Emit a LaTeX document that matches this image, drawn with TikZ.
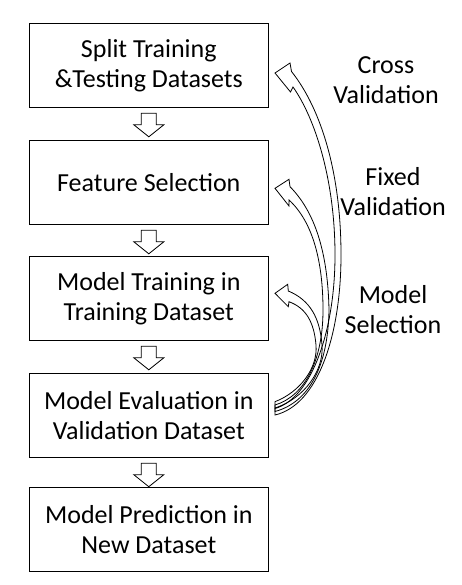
\documentclass[tikz,border=0pt]{standalone}
\usepackage{fontspec}
\setmainfont{Carlito}
\usetikzlibrary{calc}
\begin{document}
\begin{tikzpicture}[x=1pt,y=-1pt,
  box/.style={draw, line width=1pt, minimum width=239pt, minimum height=84pt, inner sep=0pt, align=center, font=\fontsize{26}{30}\selectfont},
  lbl/.style={align=center, font=\fontsize{26}{30}\selectfont, inner sep=0pt},
  curved/.style={draw, line width=0.8pt, line join=miter},
  downarr/.pic={\draw[line width=0.8pt, fill=white, line join=miter] (-7.5,5.5) -- (-7.5,17) -- (-15,17) -- (0,29) -- (15,17) -- (7.5,17) -- (7.5,5.5) -- cycle;}]
\useasboundingbox[fill=white] (0,0) rectangle (462,585);

% boxes
\node[box] (b1) at (148.8,65.3) {Split Training\\\&Testing Datasets};
\node[box] (b2) at (148.8,182.3) {Feature Selection};
\node[box] (b3) at (148.8,298.3) {Model Training in\\Training Dataset};
\node[box] (b4) at (148.8,415.2) {Model Evaluation in\\Validation Dataset};
\node[box] (b5) at (148.8,529.3) {Model Prediction in\\New Dataset};

% labels
\node[lbl] (l1) at (386,80) {Cross\\Validation};
\node[lbl] (l2) at (393,192) {Fixed\\Validation};
\node[lbl] (l3) at (393,310) {Model\\Selection};

% down block arrows
\pic at (b1.south) {downarr};
\pic at (b2.south) {downarr};
\pic at (b3.south) {downarr};
\pic at (b4.south) {downarr};

% curved arrow 1 (cross validation): from b4 to b1
\coordinate (t1o) at (275,415);   \coordinate (t1i) at (275,408.5);
\coordinate (n1u) at (291.5,71.5); \coordinate (c1u) at (290,63);
\coordinate (p1) at (275,73);
\coordinate (c1l) at (290.5,92);  \coordinate (n1l) at (293,87);
\draw[curved] (t1o) .. controls (318,405) and (341,335) .. (341,255)
   .. controls (341,175) and (322,110) .. (n1u) -- (c1u) -- (p1) -- (c1l) -- (n1l)
   .. controls (315,118) and (335,180) .. (335,255)
   .. controls (335,330) and (312,398) .. (t1i) -- cycle;

% curved arrow 2 (fixed validation): from b4 to b2
\coordinate (t2o) at (275,411.5); \coordinate (t2i) at (275,405);
\coordinate (n2u) at (290,186.7); \coordinate (c2u) at (289,179.3);
\coordinate (p2) at (275,188.3);
\coordinate (c2l) at (289,206);   \coordinate (n2l) at (289,200);
\draw[curved] (t2o) .. controls (310,402) and (328,365) .. (329,310)
   .. controls (328,260) and (318,215) .. (n2u) -- (c2u) -- (p2) -- (c2l) -- (n2l)
   .. controls (313,222) and (323,262) .. (323,310)
   .. controls (323,360) and (305,396) .. (t2i) -- cycle;

% curved arrow 3 (model selection): from b4 to b3
\coordinate (t3o) at (275,408);   \coordinate (t3i) at (275,401.7);
\coordinate (n3u) at (288.3,291); \coordinate (c3u) at (287.7,284.3);
\coordinate (p3) at (275,293.3);
\coordinate (c3l) at (288.3,306.7); \coordinate (n3l) at (289,301.7);
\draw[curved] (t3o) .. controls (305,398) and (324,370) .. (322,345)
   .. controls (320,318) and (310,300) .. (n3u) -- (c3u) -- (p3) -- (c3l) -- (n3l)
   .. controls (306,308) and (314,322) .. (316,345)
   .. controls (318,368) and (300,392) .. (t3i) -- cycle;
\end{tikzpicture}
\end{document}
